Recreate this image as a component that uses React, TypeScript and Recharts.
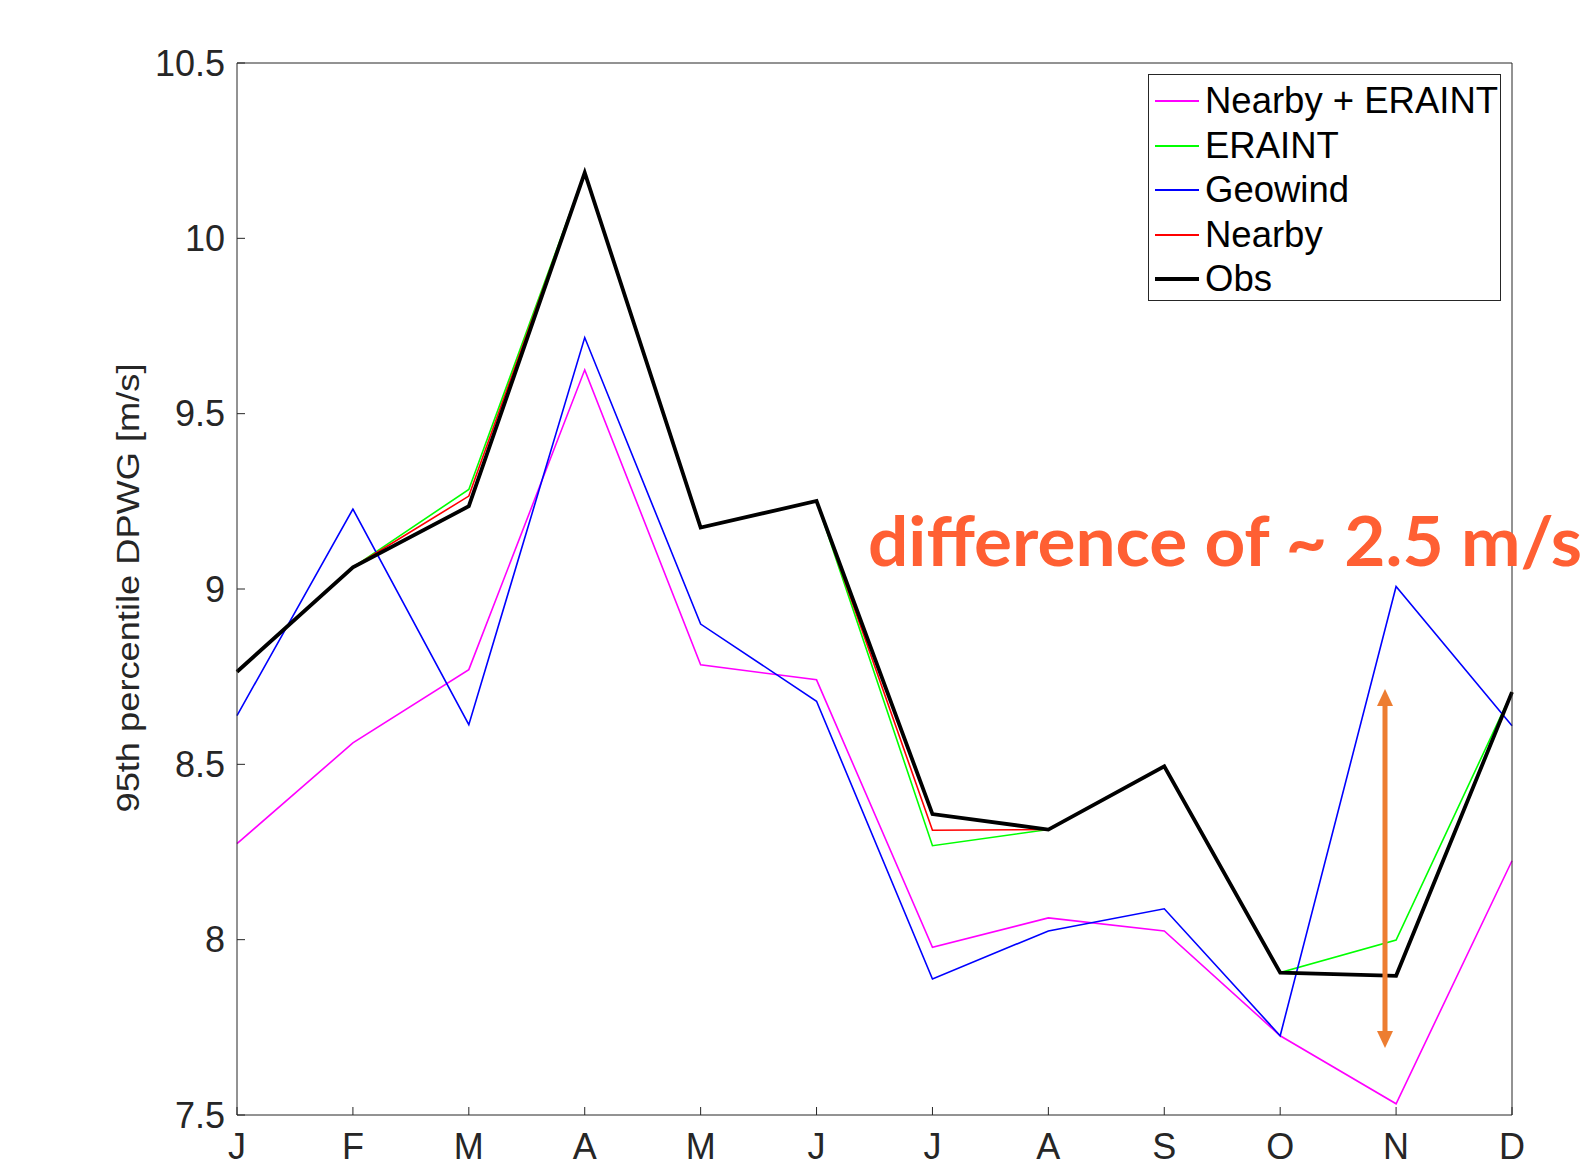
import React from "react";
import {
  LineChart, Line, XAxis, YAxis, Label,
} from "recharts";

const months = ["J", "F", "M", "A", "M", "J", "J", "A", "S", "O", "N", "D"];

const nearbyEraint = [8.274, 8.561, 8.77, 9.625, 8.784, 8.741, 7.978, 8.062, 8.025, 7.726, 7.532, 8.225];
const eraint = [8.764, 9.062, 9.284, 10.187, 9.175, 9.251, 8.268, 8.314, 8.494, 7.906, 7.999, 8.706];
const geowind = [8.639, 9.228, 8.613, 9.717, 8.9, 8.68, 7.888, 8.025, 8.088, 7.726, 9.007, 8.61];
const nearby = [8.764, 9.062, 9.265, 10.187, 9.175, 9.251, 8.312, 8.314, 8.494, 7.906, 7.897, 8.706];
const obs = [8.764, 9.062, 9.236, 10.187, 9.175, 9.251, 8.358, 8.314, 8.494, 7.906, 7.897, 8.706];

const yTicks = [7.5, 8, 8.5, 9, 9.5, 10, 10.5];
const xTicks = months.map((_, i) => i);

const series = [
  { key: "nearbyEraint", name: "Nearby + ERAINT", color: "#ff00ff", width: 1.6 },
  { key: "eraint", name: "ERAINT", color: "#00ff00", width: 1.6 },
  { key: "geowind", name: "Geowind", color: "#0000ff", width: 1.6 },
  { key: "nearby", name: "Nearby", color: "#ff0000", width: 1.6 },
  { key: "obs", name: "Obs", color: "#000000", width: 3.8 },
];

const data = months.map((m, i) => ({
  idx: i,
  month: m,
  nearbyEraint: nearbyEraint[i],
  eraint: eraint[i],
  geowind: geowind[i],
  nearby: nearby[i],
  obs: obs[i],
}));

const FONT = "'Liberation Sans', Arial, Helvetica, sans-serif";
const AXIS = "#262626";

function LegendBox() {
  return (
    <div style={{
      position: "absolute", left: 1148, top: 74,
      width: 353, height: 227, boxSizing: "border-box",
      border: "1.5px solid #262626", background: "#fff",
      paddingTop: 4, fontFamily: FONT,
    }}>
      {series.map((s) => (
        <div key={s.key} style={{ display: "flex", alignItems: "center", height: 44.5 }}>
          <div style={{ width: 44, height: s.key === "obs" ? 4 : 1.6, background: s.color, marginLeft: 6, marginRight: 6 }} />
          <span style={{ fontSize: 36.5, color: "#000", lineHeight: "36px" }}>{s.name}</span>
        </div>
      ))}
    </div>
  );
}

export default function App() {
  return (
    <div style={{ position: "absolute", left: 0, top: 0, width: 1592, height: 1167, background: "#fff" }}>
      <LineChart
        width={1592}
        height={1167}
        data={data}
        margin={{ top: 62, right: 79, bottom: 2, left: 87 }}
      >
        <XAxis
          dataKey="idx" type="number" domain={[0, 11]} ticks={xTicks}
          tickFormatter={(v) => months[v]}
          height={50} tickSize={-8} tickMargin={26}
          stroke={AXIS} axisLine={{ stroke: AXIS }}
          tick={{ fontSize: 36, fill: "#262626", fontFamily: FONT }}
        />
        <XAxis
          xAxisId="top" orientation="top" dataKey="idx" type="number" domain={[0, 11]}
          ticks={xTicks} tick={false} height={1} tickSize={-8} stroke={AXIS}
        />
        <YAxis
          yAxisId="left" domain={[7.5, 10.5]} ticks={yTicks} type="number"
          width={150} tickSize={-8} tickMargin={20} stroke={AXIS}
          interval={0}
          tick={{ fontSize: 36, fill: "#262626", fontFamily: FONT }}
        >
          <Label
            content={() => (
              <text
                x={0} y={0}
                transform="translate(139, 588) rotate(-90)"
                textAnchor="middle"
                fontSize={31} fill="#262626" fontFamily={FONT}
                textLength={449} lengthAdjust="spacingAndGlyphs"
              >
                95th percentile DPWG [m/s]
              </text>
            )}
          />
        </YAxis>
        <YAxis
          yAxisId="right" orientation="right" domain={[7.5, 10.5]} ticks={yTicks}
          type="number" width={1} tick={false} tickSize={-8} stroke={AXIS} interval={0}
        />
        {series.map((s) => (
          <Line
            key={s.key} yAxisId="left" dataKey={s.key} name={s.name}
            type="linear" stroke={s.color} strokeWidth={s.width}
            dot={false} activeDot={false} isAnimationActive={false}
            strokeLinejoin="miter"
          />
        ))}
      </LineChart>
      <LegendBox />
      <svg width={1592} height={1167} style={{ position: "absolute", left: 0, top: 0, pointerEvents: "none" }}>
        <text
          x={868} y={566} fill="#ff5f33" fontWeight="bold" fontSize={68}
          fontFamily="Lato, 'Open Sans', sans-serif"
          textLength={714} lengthAdjust="spacingAndGlyphs"
        >
          difference of ~ 2.5 m/s
        </text>
        <line x1={1385} y1={700} x2={1385} y2={1037} stroke="#ed7d31" strokeWidth={5} />
        <polygon points="1385,689 1377,706 1393,706" fill="#ed7d31" />
        <polygon points="1385,1048 1377,1031 1393,1031" fill="#ed7d31" />
      </svg>
    </div>
  );
}
